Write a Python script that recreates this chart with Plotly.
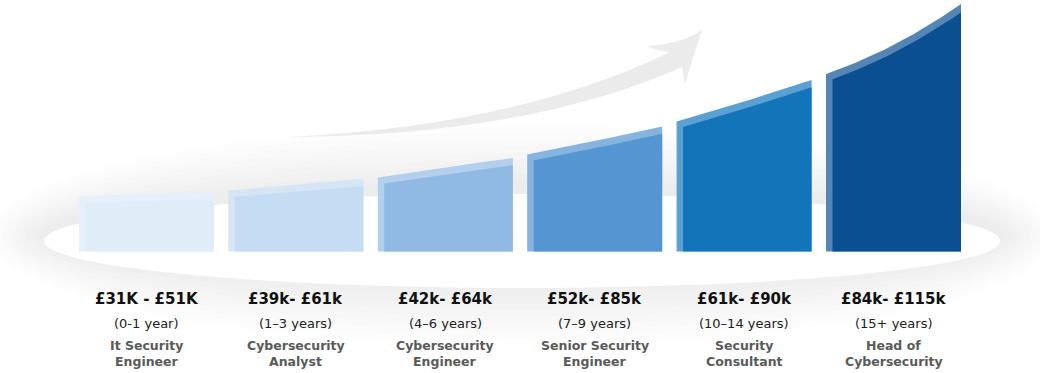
import numpy as np
import plotly.graph_objects as go

# ---------------- data ----------------
salary_ranges = ["£31K - £51K", "£39k- £61k", "£42k- £64k", "£52k- £85k", "£61k- £90k", "£84k- £115k"]
experience = ["(0-1 year)", "(1–3 years)", "(4–6 years)", "(7–9 years)", "(10–14 years)", "(15+ years)"]
role_line1 = ["It Security", "Cybersecurity", "Cybersecurity", "Senior Security", "Security", "Head of"]
role_line2 = ["Engineer", "Analyst", "Engineer", "Engineer", "Consultant", "Cybersecurity"]
# bar top heights (left edge, middle, right edge), in chart units above the baseline
top_left = [55, 61, 74, 97, 130, 177.5]
top_mid = [57.5, 67, 84, 110.5, 150, 206.5]
top_right = [60, 72.5, 93.5, 125, 171.5, 247.5]

# ---------------- styles ----------------
outer_colors = ["#e6f0fa", "#d5e5f5", "#b3cfee", "#86b4df", "#5aa0d2", "#5585b5"]
inner_colors = ["#e0ecf8", "#c6dcf2", "#90b9e3", "#5596d2", "#1474ba", "#0b4f93"]
W, H = 1040, 373
BASE = 251.5            # pixel row of the baseline
X0, STEP, HALF = 146.5, 149.4, 67.5
BEVEL_X, BEVEL_Y = 6.5, 7.0
FONT = "DejaVu Sans"

def py(p):  # pixel row -> y units
    return BASE - p

fig = go.Figure()

# glow + ellipse platform
cx, cy = 522, py(241)
a0, b0 = 478, 47
shapes = []
for k in range(9, 0, -1):
    a, b = a0 + 6 * k, b0 + 7 * k
    shapes.append(dict(type="circle", xref="x", yref="y", layer="below",
                       x0=cx - a, x1=cx + a, y0=cy - b + 6, y1=cy + b + 6,
                       fillcolor="rgba(0,0,0,0.008)", line=dict(width=0)))
shapes.append(dict(type="circle", xref="x", yref="y", layer="below",
                   x0=cx - a0, x1=cx + a0, y0=cy - b0, y1=cy + b0,
                   fillcolor="#ffffff", line=dict(width=0)))

# decorative arrow
def P(x, p):
    return f"{x},{py(p)}"
arrow = ("M " + P(290, 137) + " Q " + P(520, 125) + " " + P(670, 52) +
         " Q " + P(655, 50) + " " + P(647, 46) +
         " Q " + P(682, 44) + " " + P(702, 30) +
         " Q " + P(692, 60) + " " + P(685, 84) +
         " L " + P(682, 67) +
         " Q " + P(530, 135) + " " + P(290, 137) + " Z")
shapes.append(dict(type="path", xref="x", yref="y", layer="below", path=arrow,
                   fillcolor="#ebebeb", line=dict(width=0)))

# bars
for i in range(len(top_left)):
    c = X0 + STEP * i
    xl, xr = c - HALF, c + HALF
    coef = np.polyfit([xl, c, xr], [top_left[i], top_mid[i], top_right[i]], 2)
    xs = np.linspace(xl, xr, 40)
    ys = np.polyval(coef, xs)
    fig.add_trace(go.Scatter(x=np.concatenate([[xl], xs, [xr, xl]]),
                             y=np.concatenate([[0], ys, [0, 0]]),
                             fill="toself", fillcolor=outer_colors[i], mode="lines",
                             line=dict(width=0), hoverinfo="skip", showlegend=False))
    xi = np.linspace(xl + BEVEL_X, xr, 40)
    slope = np.polyval(np.polyder(coef), xi)
    yi = np.polyval(coef, xi) - BEVEL_Y * np.sqrt(1 + slope ** 2)
    fig.add_trace(go.Scatter(x=np.concatenate([[xl + BEVEL_X], xi, [xr, xl + BEVEL_X]]),
                             y=np.concatenate([[0], yi, [0, 0]]),
                             fill="toself", fillcolor=inner_colors[i], mode="lines",
                             line=dict(width=0), hoverinfo="skip", showlegend=False))

# labels
ann = []
for i in range(len(salary_ranges)):
    c = X0 + STEP * i
    ann.append(dict(x=c, y=py(299), text=f"<b>{salary_ranges[i]}</b>", showarrow=False,
                    font=dict(family=FONT, size=15, color="#111111"), xanchor="center", yanchor="middle"))
    ann.append(dict(x=c, y=py(323), text=experience[i], showarrow=False,
                    font=dict(family=FONT, size=13, color="#222222"), xanchor="center", yanchor="middle"))
    ann.append(dict(x=c, y=py(345), text=f"<b>{role_line1[i]}</b>", showarrow=False,
                    font=dict(family=FONT, size=12.5, color="#5a5a5a"), xanchor="center", yanchor="middle"))
    ann.append(dict(x=c, y=py(361), text=f"<b>{role_line2[i]}</b>", showarrow=False,
                    font=dict(family=FONT, size=12.5, color="#5a5a5a"), xanchor="center", yanchor="middle"))

fig.update_layout(
    width=W, height=H, margin=dict(l=0, r=0, t=0, b=0),
    paper_bgcolor="white", plot_bgcolor="white",
    xaxis=dict(range=[0, W], visible=False, fixedrange=True),
    yaxis=dict(range=[BASE - H, BASE], visible=False, fixedrange=True),
    shapes=shapes, annotations=ann, showlegend=False,
)
fig.write_html("out.html", config={"displayModeBar": False},
               post_script="document.body.style.margin='0';document.body.style.overflow='hidden';")
